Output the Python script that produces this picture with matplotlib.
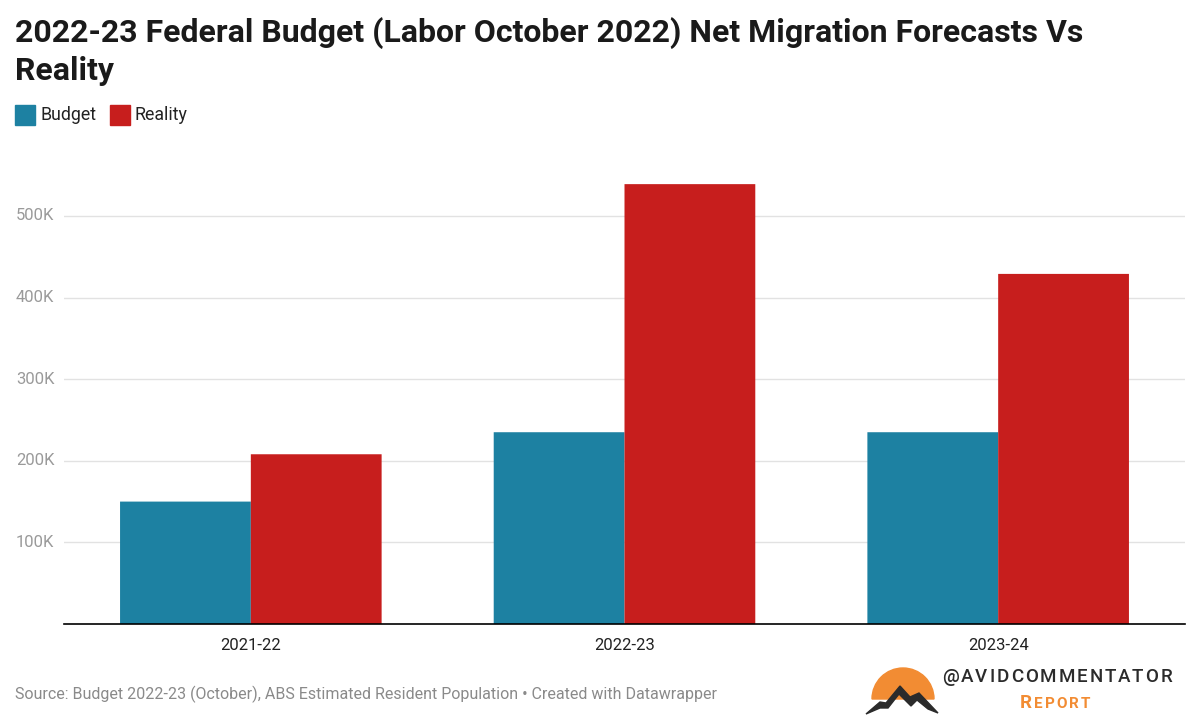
import numpy as np
import matplotlib
matplotlib.use('Agg')
import matplotlib.pyplot as plt
from matplotlib.patches import Rectangle, Wedge, Polygon

plt.rcParams['font.family'] = ['Roboto', 'DejaVu Sans']

years = ['2021-22', '2022-23', '2023-24']
budget = [150000, 235000, 235000]
reality = [208000, 539000, 429000]
series_names = ['Budget', 'Reality']
colors = ['#1d81a2', '#c71e1d']
yticks = [100000, 200000, 300000, 400000, 500000]
ytick_labels = ['100K', '200K', '300K', '400K', '500K']

W, H = 1200, 720
fig = plt.figure(figsize=(12, 7.2), dpi=100)

ax = fig.add_axes([64 / W, 1 - 624 / H, (1185 - 64) / W, (624 - 167) / H])
x = np.arange(len(years))
bw = 0.35
ax.bar(x - bw / 2, budget, bw, color=colors[0], linewidth=0, snap=False, zorder=3)
ax.bar(x + bw / 2, reality, bw, color=colors[1], linewidth=0, snap=False, zorder=3)
ax.set_xlim(-0.5, 2.5)
ax.set_ylim(0, 560000)
ax.set_yticks(yticks)
ax.set_yticklabels([])
ax.grid(axis='y', color='#e2e2e2', linewidth=1, zorder=0)
ax.set_xticks(x)
ax.set_xticklabels(years, fontsize=12, color='#222222')
ax.tick_params(axis='x', length=0, pad=10)
ax.tick_params(axis='y', length=0)
for s in ['top', 'right', 'left']:
    ax.spines[s].set_visible(False)
ax.spines['bottom'].set_color('#000000')
ax.spines['bottom'].set_linewidth(1.2)
ax.spines['bottom'].set_zorder(4)

# y labels sit left of the gridlines
for v, lab in zip(yticks, ytick_labels):
    ax.annotate(lab, xy=(0, v), xycoords=('axes fraction', 'data'),
                xytext=(-48, 0), textcoords='offset pixels',
                ha='left', va='center', fontsize=12, color='#9a9a9a')

# title
fig.text(15 / W, 1 - 33 / H, '2022-23 Federal Budget (Labor October 2022) Net Migration Forecasts Vs',
         fontsize=23, fontweight='bold', color='#1a1a1a', va='center', ha='left')
fig.text(15 / W, 1 - 71 / H, 'Reality',
         fontsize=23, fontweight='bold', color='#1a1a1a', va='center', ha='left')

# legend
leg_x = [15, 110]
for lx, name, c in zip(leg_x, series_names, colors):
    fig.patches.append(Rectangle((lx / W, 1 - 125 / H), 20 / W, 20 / H,
                                 transform=fig.transFigure, color=c))
    fig.text((lx + 25) / W, 1 - 115 / H, name, fontsize=12.8, color='#222222',
             va='center', ha='left')

# source
fig.text(15 / W, 1 - 694 / H,
         'Source: Budget 2022-23 (October), ABS Estimated Resident Population \u2022 Created with Datawrapper',
         fontsize=11.55, color='#8a8a8a', va='center', ha='left')

# logo
lg = fig.add_axes([860 / W, 0, 340 / W, 80 / H])
lg.set_xlim(860, 1200)
lg.set_ylim(720, 640)
lg.axis('off')
lg.add_patch(Wedge((903, 699), 31, 180, 360, color='#f28c33'))
lg.add_patch(Polygon([(866, 714), (880, 702), (886, 703), (900, 686), (910, 697),
                      (919, 693), (938, 713), (928, 709), (917, 700), (911, 706),
                      (899, 694), (888, 708), (880, 708)],
                     closed=True, color='#2b2b2b'))

renderer = fig.canvas.get_renderer()


def tracked(chars, sizes, x0, x1, y, color, weight):
    # lay out letters one by one with an even gap so they span x0..x1
    items = []
    for ch, fs in zip(chars, sizes):
        t = lg.text(0, y, ch, fontsize=fs, color=color, fontweight=weight,
                    va='baseline', ha='left')
        items.append((t, t.get_window_extent(renderer).width))
    total = sum(w for _, w in items)
    gap = (x1 - x0 - total) / (len(items) - 1)
    cur = x0
    for t, w in items:
        t.set_x(cur)
        cur += w + gap


handle = '@AVIDCOMMENTATOR'
tracked(handle, [13.5] * len(handle), 942, 1172, 682, '#2b2b2b', 'medium')
tracked('REPORT', [13.5, 11, 11, 11, 11, 11], 1020, 1090, 708, '#f28c33', 'bold')

fig.savefig('out.png', dpi=100, facecolor='white')
